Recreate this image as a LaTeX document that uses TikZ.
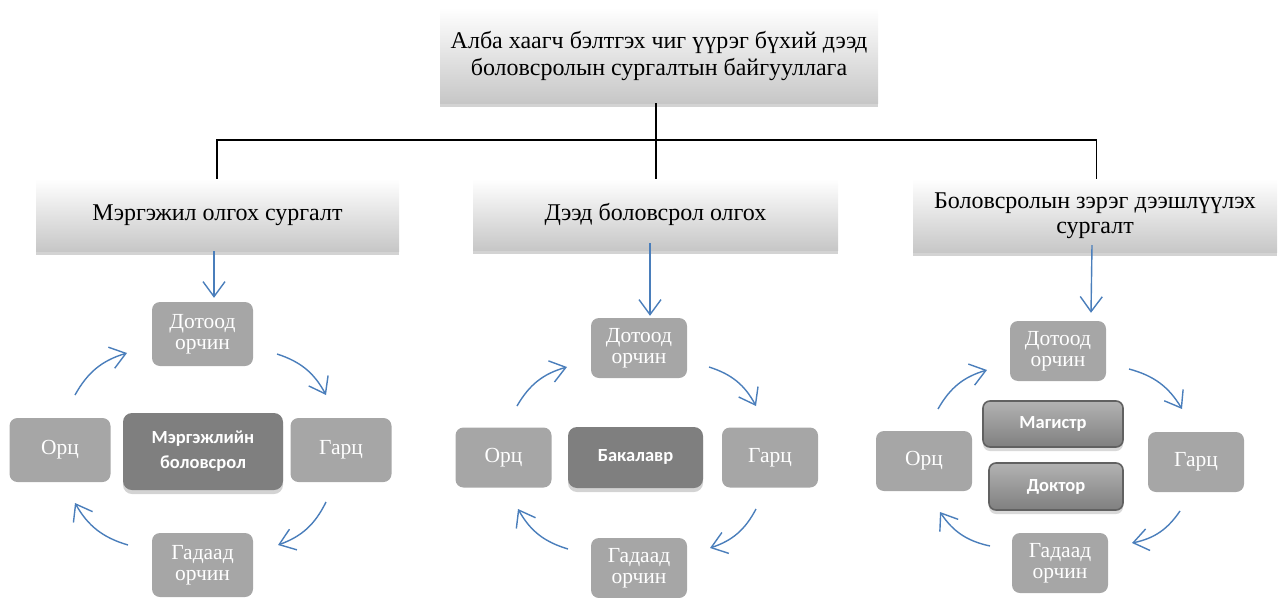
\documentclass[tikz,border=0pt]{standalone}
\usepackage{fontspec}
\setmainfont{Liberation Serif}
\newfontfamily\calibri{Carlito}
\usetikzlibrary{arrows.meta,shadows,calc}
\definecolor{cyc}{HTML}{4A7EBB}
\definecolor{boxgray}{HTML}{A6A6A6}
\definecolor{darkbox}{HTML}{7F7F7F}
\tikzset{
  header/.style={rectangle, top color=white, bottom color=black!22, minimum height=#1, align=center,
    font=\fontsize{24}{25}\selectfont, drop shadow={opacity=0.35, shadow xshift=0pt, shadow yshift=-4pt}},
  graybox/.style={rectangle, rounded corners=8pt, fill=boxgray, text=white, align=center,
    minimum width=101pt, minimum height=64pt, inner sep=0pt, font=\fontsize{21.5}{21}\selectfont},
  centerbox/.style={rectangle, rounded corners=9pt, fill=darkbox, text=white, align=center,
    inner sep=0pt, font=\calibri\bfseries\fontsize{18.5}{25}\selectfont,
    drop shadow={opacity=0.35, shadow xshift=0pt, shadow yshift=-4pt}},
  bevelbox/.style={rectangle, rounded corners=7pt, draw=black!62, line width=1.6pt,
    top color=black!30, middle color=black!49, bottom color=black!50, text=white, inner sep=0pt,
    font=\calibri\bfseries\fontsize{18.5}{20}\selectfont,
    drop shadow={opacity=0.3, shadow xshift=0pt, shadow yshift=-4pt}},
  tree/.style={line width=1.7pt, black},
  barrow/.style={draw=cyc, line width=1.4pt, -{Straight Barb[length=15pt,width=22pt,line width=1.4pt]}},
}
\begin{document}
\begin{tikzpicture}[x=1pt,y=1pt]
\useasboundingbox (0,0) rectangle (1285,-597);
\clip (0,0) rectangle (1285,-597);

% top box
\node[header=95pt, minimum width=438pt, font=\fontsize{24}{27}\selectfont] (top) at (659,-55.5) {Алба хаагч бэлтгэх чиг үүрэг бүхий дээд\\боловсролын сургалтын байгууллага};

% level 2 headers
\node[header=72pt, minimum width=363pt] (h1) at (217.5,-215) {Мэргэжил олгох сургалт};
\node[header=71pt, minimum width=365pt] (h2) at (655.5,-214.5) {Дээд боловсрол олгох};
\node[header=73pt, minimum width=364pt] (h3) at (1095,-215.5) {Боловсролын зэрэг дээшлүүлэх\\сургалт};

% tree connectors
\coordinate (j) at (656,-140);
\draw[tree] (top.south -| j) -- (j);
\draw[tree] (j) -| ([xshift=-0.5pt]h1.north);
\draw[tree] (j) -| ([xshift=1.5pt]h3.north);
\draw[tree] (j) -- (h2.north -| j);

% ---------- left cycle ----------
\node[graybox] (d1) at (202.5,-334) {Дотоод\\орчин};
\node[graybox] (o1) at (60,-450) {Орц};
\node[centerbox, minimum width=160pt, minimum height=77pt] (c1) at (203,-451.5) {Мэргэжлийн\\боловсрол};
\node[graybox] (g1) at (341,-450) {Гарц};
\node[graybox] (e1) at (202.5,-565) {Гадаад\\орчин};

\draw[barrow] ([xshift=-3.5pt]h1.south) -- ([xshift=-3.5pt,yshift=4pt]h1.south |- d1.north);
\coordinate (a1s) at (75,-395);  \coordinate (a1e) at (127,-353);
\coordinate (b1s) at (277,-354); \coordinate (b1e) at (326,-395);
\coordinate (c1s) at (326,-502); \coordinate (c1e) at (278,-545);
\coordinate (e1s) at (128,-545); \coordinate (e1e) at (75,-503);
\draw[barrow] (a1s) to[bend left=22] (a1e);
\draw[barrow] (b1s) to[bend left=22] (b1e);
\draw[barrow] (c1s) to[bend left=22] (c1e);
\draw[barrow] (e1s) to[bend left=22] (e1e);

% ---------- middle cycle ----------
\node[graybox, minimum width=96pt, minimum height=60pt] (d2) at (639,-348) {Дотоод\\орчин};
\node[graybox, minimum width=96pt, minimum height=60pt] (o2) at (503.5,-457.5) {Орц};
\node[centerbox, minimum width=135pt, minimum height=61pt] (c2) at (635.5,-457.5) {\raisebox{5pt}{Бакалавр}};
\node[graybox, minimum width=96pt, minimum height=60pt] (g2) at (770,-457.5) {Гарц};
\node[graybox, minimum width=96pt, minimum height=60pt] (e2) at (639,-568) {Гадаад\\орчин};

\draw[barrow] ([xshift=-5.5pt,yshift=7pt]h2.south) -- ([xshift=-5.5pt,yshift=2pt]h2.south |- d2.north);
\coordinate (a2s) at (517,-406); \coordinate (a2e) at (567,-367);
\coordinate (b2s) at (709,-367); \coordinate (b2e) at (756,-406);
\coordinate (c2s) at (756,-509); \coordinate (c2e) at (710,-548);
\coordinate (e2s) at (568,-549); \coordinate (e2e) at (518,-509);
\draw[barrow] (a2s) to[bend left=22] (a2e);
\draw[barrow] (b2s) to[bend left=22] (b2e);
\draw[barrow] (c2s) to[bend left=22] (c2e);
\draw[barrow] (e2s) to[bend left=22] (e2e);

% ---------- right cycle ----------
\node[graybox, minimum width=96pt, minimum height=60pt] (d3) at (1058,-351) {Дотоод\\орчин};
\node[graybox, minimum width=96pt, minimum height=60pt] (o3) at (924,-461) {Орц};
\node[bevelbox, minimum width=140pt, minimum height=46pt] (m3) at (1053,-424) {Магистр};
\node[bevelbox, minimum width=134pt, minimum height=47pt] (k3) at (1056,-486.5) {Доктор};
\node[graybox, minimum width=96pt, minimum height=60pt] (g3) at (1196,-462) {Гарц};
\node[graybox, minimum width=96pt, minimum height=60pt] (e3) at (1060,-563) {Гадаад\\орчин};

\draw[barrow] ([xshift=-3pt,yshift=7pt]h3.south) -- ([xshift=-4pt,yshift=8pt]h3.south |- d3.north);
\coordinate (a3s) at (938,-409);  \coordinate (a3e) at (987,-370);
\coordinate (b3s) at (1129,-369); \coordinate (b3e) at (1182,-409);
\coordinate (c3s) at (1180,-511); \coordinate (c3e) at (1132,-543);
\coordinate (e3s) at (990,-546);  \coordinate (e3e) at (940,-512);
\draw[barrow] (a3s) to[bend left=22] (a3e);
\draw[barrow] (b3s) to[bend left=22] (b3e);
\draw[barrow] (c3s) to[bend left=22] (c3e);
\draw[barrow] (e3s) to[bend left=22] (e3e);
\end{tikzpicture}
\end{document}
